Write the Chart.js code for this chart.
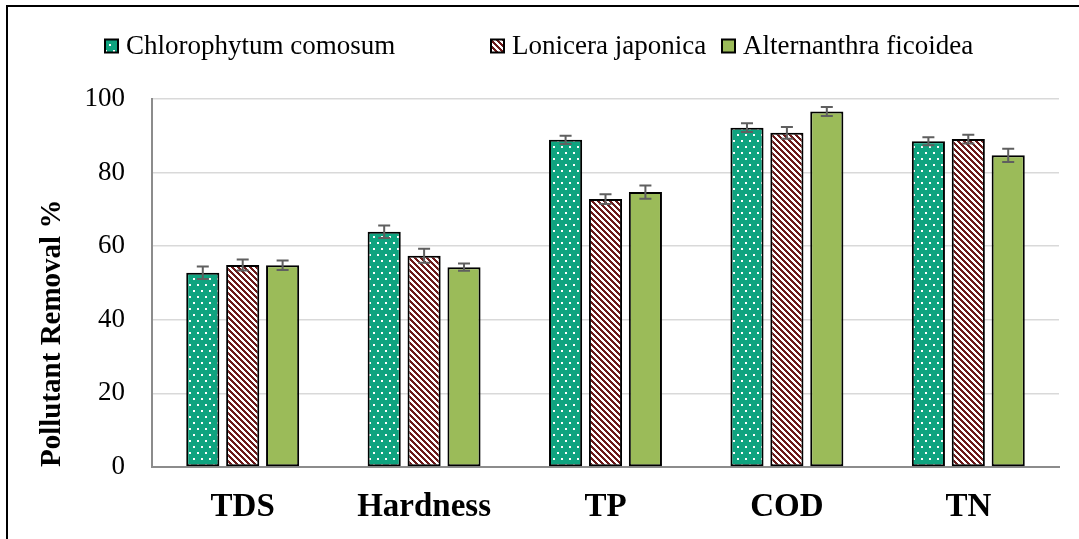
<!DOCTYPE html>
<html>
<head>
<meta charset="utf-8">
<script src="https://cdn.jsdelivr.net/npm/chart.js@4.4.1/dist/chart.umd.min.js"></script>
<style>
  html, body { margin: 0; padding: 0; background: #ffffff; overflow: hidden; }
  #wrap { width: 1079px; height: 539px; position: relative; }
</style>
</head>
<body>
<div id="wrap"><canvas id="chart"></canvas></div>
<script>
// Pollutant removal (%) by plant species, mean ± error
const categories = ['TDS', 'Hardness', 'TP', 'COD', 'TN'];
const seriesNames = ['Chlorophytum comosum', 'Lonicera japonica', 'Alternanthra ficoidea'];

const chlorophytumValues = [52.8, 63.9, 88.9, 92.2, 88.5];
const loniceraValues     = [54.9, 57.4, 72.8, 90.8, 89.1];
const alternanthraValues = [54.8, 54.3, 74.7, 96.6, 84.7];

const chlorophytumErrors = [1.7, 1.7, 1.1, 1.2, 1.1];
const loniceraErrors     = [1.5, 1.9, 1.3, 1.6, 1.2];
const alternanthraErrors = [1.3, 1.0, 1.8, 1.2, 1.8];

const yTickValues = [0, 20, 40, 60, 80, 100];

const SERIF = '"Liberation Serif", "DejaVu Serif", serif';

// Fill patterns
function dottedFill(bg, fg) {
  const c = document.createElement('canvas');
  c.width = 8; c.height = 12;
  const g = c.getContext('2d');
  g.fillStyle = bg; g.fillRect(0, 0, 8, 12);
  g.fillStyle = fg;
  g.fillRect(1, 2, 2, 2);
  g.fillRect(5, 8, 2, 2);
  return g.createPattern(c, 'repeat');
}
function hatchedFill(bg, fg, size) {
  const c = document.createElement('canvas');
  c.width = size; c.height = size;
  const g = c.getContext('2d');
  g.fillStyle = bg; g.fillRect(0, 0, size, size);
  g.fillStyle = fg;
  for (let y = 0; y < size; y++) {
    for (let x = 0; x < size; x++) {
      if ((((x - y) % size) + size) % size < size / 2) g.fillRect(x, y, 1, 1);
    }
  }
  return g.createPattern(c, 'repeat');
}

const fills = [
  dottedFill('#0fa37f', '#ffffff'),
  hatchedFill('#ffffff', '#6b1a1a', 6),
  '#9bbb59'
];

// Outer frame (top and left edges)
const framePlugin = {
  id: 'frame',
  afterDraw(chart) {
    const ctx = chart.ctx;
    ctx.save();
    ctx.strokeStyle = '#000000';
    ctx.lineWidth = 2;
    ctx.beginPath();
    ctx.moveTo(7, chart.height);
    ctx.lineTo(7, 6);
    ctx.lineTo(chart.width, 6);
    ctx.stroke();
    ctx.restore();
  }
};

// Error bars with caps, from each dataset's errors array
const errorBarPlugin = {
  id: 'errorBars',
  afterDatasetsDraw(chart) {
    const ctx = chart.ctx;
    const yScale = chart.scales.y;
    ctx.save();
    ctx.strokeStyle = '#5f5f5f';
    ctx.lineWidth = 2;
    chart.data.datasets.forEach((ds, i) => {
      const meta = chart.getDatasetMeta(i);
      meta.data.forEach((bar, j) => {
        const v = ds.data[j], e = ds.errors[j];
        const yTop = yScale.getPixelForValue(v + e);
        const yBot = yScale.getPixelForValue(v - e);
        const cap = 6;
        ctx.beginPath();
        ctx.moveTo(bar.x, yTop); ctx.lineTo(bar.x, yBot);
        ctx.moveTo(bar.x - cap, yTop); ctx.lineTo(bar.x + cap, yTop);
        ctx.moveTo(bar.x - cap, yBot); ctx.lineTo(bar.x + cap, yBot);
        ctx.stroke();
      });
    });
    ctx.restore();
  }
};

// Single-row legend along the top
const LEGEND_X = [105, 491, 722];
const LEGEND_Y = 46;
const legendRowPlugin = {
  id: 'legendRow',
  afterDraw(chart) {
    const ctx = chart.ctx;
    const box = 13;
    ctx.save();
    ctx.font = '27px ' + SERIF;
    ctx.textBaseline = 'middle';
    ctx.textAlign = 'left';
    chart.data.datasets.forEach((ds, i) => {
      const x = LEGEND_X[i];
      ctx.fillStyle = ds.backgroundColor;
      ctx.fillRect(x, LEGEND_Y - box / 2, box, box);
      ctx.strokeStyle = '#000000';
      ctx.lineWidth = 2;
      ctx.strokeRect(x, LEGEND_Y - box / 2, box, box);
      ctx.fillStyle = '#000000';
      ctx.fillText(ds.label, x + box + 8, LEGEND_Y + 1);
    });
    ctx.restore();
  }
};

const seriesValues = [chlorophytumValues, loniceraValues, alternanthraValues];
const seriesErrors = [chlorophytumErrors, loniceraErrors, alternanthraErrors];

new Chart(document.getElementById('chart'), {
  type: 'bar',
  data: {
    labels: categories,
    datasets: seriesNames.map((name, i) => ({
      label: name,
      data: seriesValues[i],
      errors: seriesErrors[i],
      backgroundColor: fills[i],
      borderColor: '#000000',
      borderWidth: 2,
      borderSkipped: false,
      categoryPercentage: 0.66,
      barPercentage: 0.83
    }))
  },
  options: {
    responsive: true,
    maintainAspectRatio: false,
    devicePixelRatio: 1,
    animation: false,
    layout: { padding: { left: 0, right: 20, top: 99, bottom: 0 } },
    plugins: {
      legend: { display: false },
      tooltip: { enabled: false }
    },
    scales: {
      x: {
        grid: { display: false, drawTicks: false },
        border: { display: true, color: '#8c8c8c', width: 2 },
        ticks: {
          color: '#000000',
          padding: 21,
          font: { family: SERIF, size: 33, weight: 'bold' }
        },
        afterFit(scale) { scale.height = 72; }
      },
      y: {
        min: 0,
        max: 100,
        afterBuildTicks(scale) { scale.ticks = yTickValues.map(v => ({ value: v })); },
        grid: { color: '#d9d9d9', lineWidth: 1.5, drawTicks: false },
        border: { color: '#8c8c8c', width: 2 },
        ticks: {
          color: '#000000',
          padding: 27,
          font: { family: SERIF, size: 27 }
        },
        title: {
          display: true,
          text: 'Pollutant Removal %',
          align: 'start',
          color: '#000000',
          font: { family: SERIF, size: 29, weight: 'bold' },
          padding: { top: 35, bottom: 0 }
        },
        afterFit(scale) { scale.width = 152; }
      }
    }
  },
  plugins: [errorBarPlugin, legendRowPlugin, framePlugin]
});
</script>
</body>
</html>
